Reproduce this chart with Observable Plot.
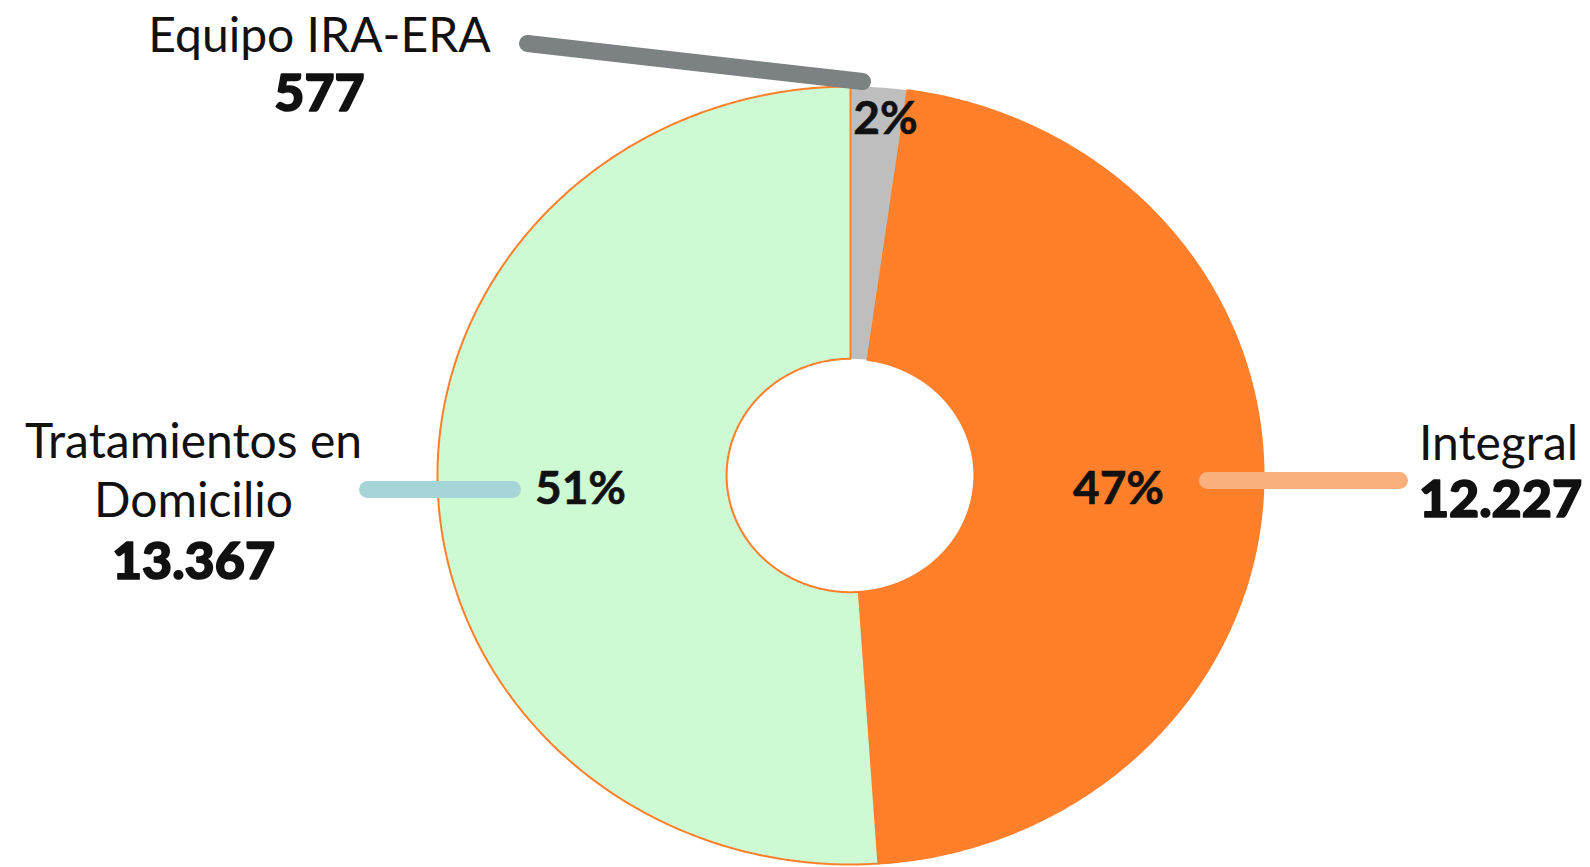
<!DOCTYPE html>
<html><head><meta charset="utf-8">
<script src="https://cdn.jsdelivr.net/npm/d3@7"></script>
<script src="https://cdn.jsdelivr.net/npm/@observablehq/plot@0.6"></script>
<style>body{margin:0;background:#fff;overflow:hidden;}</style>
</head><body><div id="chart"></div>
<script>
// ---- data ----
const categories = ["Equipo IRA-ERA", "Integral", "Tratamientos en Domicilio"];
const values = [577, 12227, 13367];
const valueLabels = ["577", "12.227", "13.367"];
const percentLabels = ["2%", "47%", "51%"];
const nameLines = [["Equipo IRA-ERA"], ["Integral"], ["Tratamientos en", "Domicilio"]];

// ---- styles ----
const sliceColors = ["#BEBEBE", "#FF7F2A", "#CDF9D3"];
const sliceStroke = ["none", "#FF7F2A", "#FF7F2A"];
const leaderColors = ["#7C8182", "#F9B07C", "#A7D5D7"];
const FONT = "Lato, 'Open Sans', sans-serif";

// ---- layout (pixel space of the 1590x867 page) ----
const W = 1590, H = 867;
const CX = 850, CY = 475, RX = 413, RY = 389, INNER = 0.3;
const nameAnchor = [[319, 51], [1498, 459], [193, 457]];
const valueAnchor = [[319, 110], [1500, 516], [193, 578]];
const pctAnchor = [[885, 133], [1118, 503], [580, 503]];
const leaderPx = [[[527, 43], [862, 81]], [[1207, 480], [1399, 480]], [[367, 489], [512, 489]]];
const nx = px => (px - CX) / RX;
const ny = py => (CY - py) / RY;

// ---- slices from d3.pie ----
const pie = d3.pie().sort(null).value(d => d.value);
const rows = categories.map((c, i) => ({name: c, value: values[i], i}));
const arcs = pie(rows);
function slicePoints(a) {
  const pts = [];
  const n = Math.max(8, Math.ceil((a.endAngle - a.startAngle) / 0.01));
  for (let k = 0; k <= n; k++) {
    const t = a.startAngle + (a.endAngle - a.startAngle) * k / n;
    pts.push({x: Math.sin(t), y: Math.cos(t)});
  }
  for (let k = n; k >= 0; k--) {
    const t = a.startAngle + (a.endAngle - a.startAngle) * k / n;
    pts.push({x: INNER * Math.sin(t), y: INNER * Math.cos(t)});
  }
  pts.push(pts[0]);
  return pts;
}
const drawOrder = [0, 1, 2];
const sliceMarks = drawOrder.map(i => Plot.line(slicePoints(arcs[i]), {
  x: "x", y: "y", fill: sliceColors[i], stroke: sliceStroke[i], strokeWidth: 2, curve: "linear"
}));

// labels
const fsName = 48, fsVal = 52, fsPct = 46;
const nameRows = [];
nameLines.forEach((lines, i) => lines.forEach((t, j) => {
  nameRows.push({t, x: nx(nameAnchor[i][0]), y: ny(nameAnchor[i][1] + j * 59 - 0.32 * fsName)});
}));
const valueRows = valueLabels.map((t, i) => ({t, x: nx(valueAnchor[i][0]), y: ny(valueAnchor[i][1] - 0.32 * fsVal)}));
const pctRows = percentLabels.map((t, i) => ({t, x: nx(pctAnchor[i][0]), y: ny(pctAnchor[i][1] - 0.32 * fsPct)}));
const leaderRows = leaderPx.map((l, i) => ({
  x1: nx(l[0][0]), y1: ny(l[0][1]), x2: nx(l[1][0]), y2: ny(l[1][1]), c: leaderColors[i]
}));

const chart = Plot.plot({
  width: W, height: H,
  margin: 0,
  x: {domain: [-1, 1], range: [CX - RX, CX + RX], axis: null},
  y: {domain: [-1, 1], range: [CY + RY, CY - RY], axis: null},
  style: {background: "#fff", fontFamily: FONT},
  marks: [
    ...sliceMarks,
    Plot.link(leaderRows, {x1: "x1", y1: "y1", x2: "x2", y2: "y2", stroke: d => d.c, strokeWidth: 17, strokeLinecap: "round"}),
    Plot.text(pctRows, {x: "x", y: "y", text: "t", fontSize: fsPct, fontWeight: 700, fill: "#111", stroke: "#111", strokeWidth: 0.6, textAnchor: "middle", lineAnchor: "middle", fontFamily: FONT}),
    Plot.text(nameRows, {x: "x", y: "y", text: "t", fontSize: fsName, fontWeight: 400, fill: "#111", textAnchor: "middle", lineAnchor: "middle", fontFamily: FONT}),
    Plot.text(valueRows, {x: "x", y: "y", text: "t", fontSize: fsVal, fontWeight: 900, fill: "#111", stroke: "#111", strokeWidth: 1.6, textAnchor: "middle", lineAnchor: "middle", fontFamily: FONT})
  ]
});
document.getElementById("chart").appendChild(chart);
</script>
</body></html>
